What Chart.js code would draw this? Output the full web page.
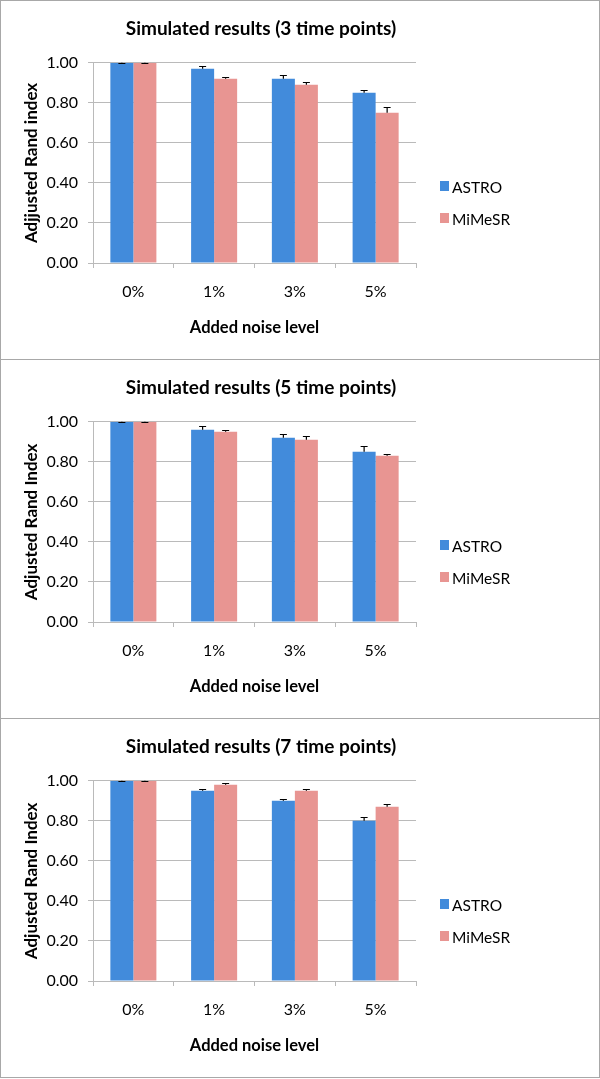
<!DOCTYPE html>
<html>
<head>
<meta charset="utf-8">
<script src="https://cdn.jsdelivr.net/npm/chart.js@4"></script>
<style>
  body { margin: 0; background: #fff; font-family: Lato, sans-serif; }
  .panel { position: absolute; left: 0; width: 600px; height: 360px; box-sizing: border-box; border: 1px solid #a8a8a8; }
  .panel canvas { position: absolute; left: -1px; top: -1px; }
  .sw { position: absolute; left: 439px; width: 9px; height: 10px; }
  .lbl { position: absolute; left: 451px; font-size: 15.5px; line-height: 16px; color: #000; }
</style>
</head>
<body>
<div class="panel" style="top:0px"><canvas id="c3" width="600" height="359"></canvas></div>
<div class="panel" style="top:359px"><canvas id="c5" width="600" height="359"></canvas></div>
<div class="panel" style="top:718px"><canvas id="c7" width="600" height="359"></canvas></div>
<script>
const noiseLevels = ["0%", "1%", "3%", "5%"];
const seriesNames = ["ASTRO", "MiMeSR"];
const yTicks = [0, 0.2, 0.4, 0.6, 0.8, 1.0];

// 3 time points
const astro3 = [1.00, 0.97, 0.92, 0.85];
const astro3Err = [0, 0.012, 0.02, 0.015];
const mimesr3 = [1.00, 0.92, 0.89, 0.75];
const mimesr3Err = [0, 0.01, 0.012, 0.03];

// 5 time points
const astro5 = [1.00, 0.96, 0.92, 0.85];
const astro5Err = [0, 0.02, 0.02, 0.03];
const mimesr5 = [1.00, 0.95, 0.91, 0.83];
const mimesr5Err = [0, 0.008, 0.02, 0.01];

// 7 time points
const astro7 = [1.00, 0.95, 0.90, 0.80];
const astro7Err = [0, 0.008, 0.008, 0.02];
const mimesr7 = [1.00, 0.98, 0.95, 0.87];
const mimesr7Err = [0, 0.01, 0.01, 0.015];

const blue = 'rgb(66, 139, 219)';
const pink = 'rgb(232, 149, 146)';
const gridGray = '#bababa';

Chart.defaults.font.family = 'Lato';
Chart.defaults.color = '#000';

// upper error bars with a small cap
const errorBars = {
  id: 'errorBars',
  afterDatasetsDraw(chart) {
    const ctx = chart.ctx;
    const yScale = chart.scales.y;
    ctx.save();
    ctx.strokeStyle = '#000';
    ctx.lineWidth = 1.2;
    chart.data.datasets.forEach((ds, i) => {
      chart.getDatasetMeta(i).data.forEach((bar, j) => {
        const top = Math.round(yScale.getPixelForValue(ds.data[j] + ds.errors[j])) + 0.5;
        ctx.beginPath();
        ctx.moveTo(bar.x, bar.y);
        ctx.lineTo(bar.x, top);
        ctx.moveTo(bar.x - 3.5, top);
        ctx.lineTo(bar.x + 3.5, top);
        ctx.stroke();
      });
    });
    ctx.restore();
  }
};

function makeChart(id, titleText, yTitle, astro, astroErr, mimesr, mimesrErr) {
  const canvas = document.getElementById(id);
  const panel = canvas.parentNode;
  [[blue, seriesNames[0], 180], [pink, seriesNames[1], 212]].forEach(k => {
    const sw = document.createElement('div');
    sw.className = 'sw';
    sw.style.background = k[0];
    sw.style.top = k[2] + 'px';
    panel.appendChild(sw);
    const lbl = document.createElement('div');
    lbl.className = 'lbl';
    lbl.textContent = k[1];
    lbl.style.top = (k[2] - 2) + 'px';
    panel.appendChild(lbl);
  });

  return new Chart(canvas, {
    type: 'bar',
    data: {
      labels: noiseLevels,
      datasets: [{
        label: seriesNames[0],
        data: astro,
        errors: astroErr,
        backgroundColor: blue,
        yAxisID: 'y'
      }, {
        label: seriesNames[1],
        data: mimesr,
        errors: mimesrErr,
        backgroundColor: pink,
        yAxisID: 'y'
      }]
    },
    options: {
      responsive: false,
      animation: false,
      datasets: {
        bar: { barPercentage: 1, categoryPercentage: 0.57 }
      },
      layout: { padding: { left: 0, right: 78, top: 0, bottom: 0 } },
      scales: {
        x: {
          ticks: { padding: 14, font: { size: 16 } },
          grid: { display: true, drawOnChartArea: false, tickLength: 5, color: gridGray, offset: true },
          border: { color: gridGray },
          title: {
            display: true,
            text: 'Added noise level',
            font: { size: 16.5, weight: 'bold' },
            padding: { top: 0, bottom: 21 }
          },
          afterFit(s) { s.height = 96; }
        },
        y: {
          min: 0,
          max: 1,
          afterBuildTicks(s) { s.ticks = yTicks.map(v => ({ value: v })); },
          ticks: {
            padding: 10,
            font: { size: 16 },
            callback: v => v.toFixed(2)
          },
          grid: { color: gridGray, tickLength: 5 },
          border: { color: gridGray },
          title: {
            display: true,
            text: yTitle,
            font: { size: 17, weight: 'bold' },
            padding: { top: 21, bottom: 0 }
          },
          afterFit(s) { s.width = 93; }
        },
        y2: {
          position: 'right',
          min: 0,
          max: 1,
          ticks: { display: false },
          grid: { display: false },
          border: { display: false },
          afterFit(s) { s.width = 106; }
        }
      },
      plugins: {
        legend: { display: false },
        tooltip: { enabled: false },
        title: {
          display: true,
          text: titleText,
          font: { size: 19, weight: 'bold' },
          padding: { top: 17, bottom: 23 }
        }
      }
    },
    plugins: [errorBars]
  });
}

makeChart('c3', 'Simulated results (3 time points)', 'Adjjusted Rand index', astro3, astro3Err, mimesr3, mimesr3Err);
makeChart('c5', 'Simulated results (5 time points)', 'Adjusted Rand Index', astro5, astro5Err, mimesr5, mimesr5Err);
makeChart('c7', 'Simulated results (7 time points)', 'Adjusted Rand Index', astro7, astro7Err, mimesr7, mimesr7Err);
</script>
</body>
</html>
